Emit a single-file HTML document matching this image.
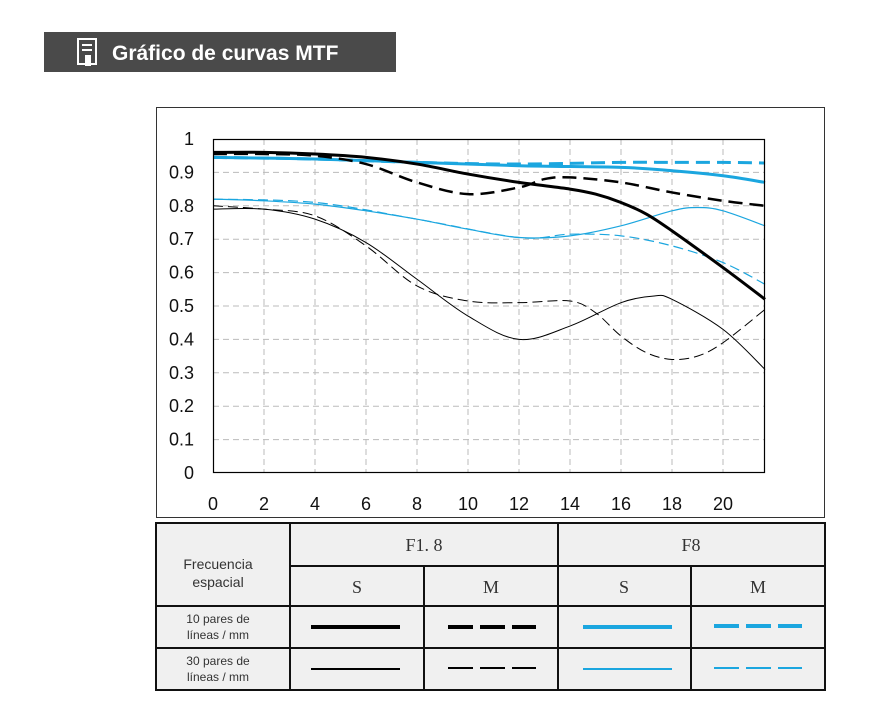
<!DOCTYPE html>
<html><head><meta charset="utf-8"><style>
body{margin:0;background:#fff;}
svg{display:block;font-family:"Liberation Sans","Noto Sans CJK SC",sans-serif;}
</style></head><body>
<svg id="c" width="879" height="725" xmlns="http://www.w3.org/2000/svg">
<rect x="44" y="32" width="352" height="40" fill="#4a4a4a"/>
<g>
<rect x="78" y="39" width="18" height="25" fill="none" stroke="#fff" stroke-width="2"/>
<line x1="82" y1="45" x2="92" y2="45" stroke="#fff" stroke-width="2"/>
<line x1="82" y1="50" x2="92" y2="50" stroke="#fff" stroke-width="2"/>
<rect x="85" y="55" width="6" height="11" fill="#fff"/>
</g>
<text x="112" y="60" fill="#fff" font-size="21" font-weight="bold">Gráfico de curvas MTF</text>
<rect x="156.5" y="107.5" width="668" height="410" fill="#fff" stroke="#333" stroke-width="1"/>
<g id="grid"></g>
<g id="ylab"></g>
<g id="xlab"></g>
<g id="series"></g>
<rect x="213.5" y="139.5" width="551" height="333" fill="none" stroke="#000" stroke-width="1.2"/>
<g>
<rect x="156" y="523" width="669" height="167" fill="#f0f0f0" stroke="#111" stroke-width="2"/>
<line x1="290" y1="523" x2="290" y2="690" stroke="#111" stroke-width="2"/>
<line x1="558" y1="523" x2="558" y2="690" stroke="#111" stroke-width="2"/>
<line x1="424" y1="566" x2="424" y2="690" stroke="#111" stroke-width="2"/>
<line x1="691" y1="566" x2="691" y2="690" stroke="#111" stroke-width="2"/>
<line x1="290" y1="566" x2="825" y2="566" stroke="#111" stroke-width="2"/>
<line x1="156" y1="606" x2="825" y2="606" stroke="#111" stroke-width="2"/>
<line x1="156" y1="648" x2="825" y2="648" stroke="#111" stroke-width="2"/>
<text x="218" y="569" font-size="14" text-anchor="middle" fill="#333">Frecuencia</text>
<text x="218" y="587" font-size="14" text-anchor="middle" fill="#333">espacial</text>
<text x="424" y="551" font-size="18" text-anchor="middle" fill="#333" font-family="Liberation Serif,serif">F1. 8</text>
<text x="691" y="551" font-size="18" text-anchor="middle" fill="#333" font-family="Liberation Serif,serif">F8</text>
<text x="357" y="593" font-size="18" text-anchor="middle" fill="#333" font-family="Liberation Serif,serif">S</text>
<text x="491" y="593" font-size="18" text-anchor="middle" fill="#333" font-family="Liberation Serif,serif">M</text>
<text x="624" y="593" font-size="18" text-anchor="middle" fill="#333" font-family="Liberation Serif,serif">S</text>
<text x="758" y="593" font-size="18" text-anchor="middle" fill="#333" font-family="Liberation Serif,serif">M</text>
<text x="218" y="623" font-size="12" text-anchor="middle" fill="#333">10 pares de</text>
<text x="218" y="639" font-size="12" text-anchor="middle" fill="#333">líneas / mm</text>
<text x="218" y="665" font-size="12" text-anchor="middle" fill="#333">30 pares de</text>
<text x="218" y="681" font-size="12" text-anchor="middle" fill="#333">líneas / mm</text>
<line x1="311" y1="627" x2="400" y2="627" stroke="#000" stroke-width="4"/>
<line x1="448" y1="627" x2="536" y2="627" stroke="#000" stroke-width="4" stroke-dasharray="25,7"/>
<line x1="583" y1="627" x2="672" y2="627" stroke="#1ba6df" stroke-width="4"/>
<line x1="714" y1="626" x2="802" y2="626" stroke="#1ba6df" stroke-width="4" stroke-dasharray="25,7"/>
<line x1="311" y1="669" x2="400" y2="669" stroke="#000" stroke-width="2"/>
<line x1="448" y1="668" x2="536" y2="668" stroke="#000" stroke-width="2" stroke-dasharray="25,7"/>
<line x1="583" y1="669" x2="672" y2="669" stroke="#1ba6df" stroke-width="2"/>
<line x1="714" y1="668" x2="802" y2="668" stroke="#1ba6df" stroke-width="2" stroke-dasharray="25,7"/>
</g>
</svg>
<script>
const xTicks=[0,2,4,6,8,10,12,14,16,18,20];
const yTicks=[0,0.1,0.2,0.3,0.4,0.5,0.6,0.7,0.8,0.9,1];
const yTickLabels=["0","0.1","0.2","0.3","0.4","0.5","0.6","0.7","0.8","0.9","1"];
const f18S10x=[0,2,4,6,8,10,12,14,15,16,17,18,20,21.65];
const f18S10y=[0.96,0.96,0.955,0.945,0.925,0.895,0.87,0.85,0.835,0.81,0.775,0.725,0.615,0.52];
const f18M10x=[0,2,4,6,8,10,12,13,14,16,18,20,21.65];
const f18M10y=[0.955,0.955,0.95,0.925,0.87,0.835,0.855,0.88,0.885,0.87,0.84,0.815,0.8];
const f8S10x=[0,4,8,12,16,18,20,21.65];
const f8S10y=[0.945,0.94,0.93,0.92,0.915,0.905,0.89,0.87];
const f8M10x=[0,4,8,12,16,18,20,21.65];
const f8M10y=[0.945,0.94,0.93,0.925,0.93,0.93,0.93,0.928];
const f8S30x=[0,2,4,6,8,10,12,14,16,18,19,20,21.65];
const f8S30y=[0.82,0.815,0.805,0.785,0.76,0.73,0.705,0.71,0.74,0.785,0.795,0.785,0.74];
const f8M30x=[0,4,8,12,14,16,18,20,21.65];
const f8M30y=[0.82,0.81,0.76,0.705,0.715,0.71,0.68,0.63,0.565];
const f18S30x=[0,2,4,6,8,10,12,14,16,17.3,18,20,21.65];
const f18S30y=[0.79,0.79,0.76,0.69,0.58,0.47,0.4,0.44,0.51,0.53,0.52,0.43,0.31];
const f18M30x=[0,2,4,6,8,10,12,14,15,16,17,18,19,20,21.65];
const f18M30y=[0.8,0.79,0.77,0.68,0.56,0.515,0.51,0.515,0.48,0.41,0.36,0.34,0.35,0.39,0.49];
const NS="http://www.w3.org/2000/svg";
const X=v=>213+v*25.5, Y=v=>473-v*334;
function mk(tag,attrs,parent){const e=document.createElementNS(NS,tag);for(const k in attrs)e.setAttribute(k,attrs[k]);parent.appendChild(e);return e;}
const grid=document.getElementById('grid'),yl=document.getElementById('ylab'),xl=document.getElementById('xlab'),ser=document.getElementById('series');
yTicks.forEach((t,i)=>{
  if(t>0&&t<1){const l=mk('line',{x1:213,x2:765,y1:Y(t),y2:Y(t),stroke:'#bbb','stroke-dasharray':'6,4'},grid);
  
  }
  const tx=mk('text',{x:194,y:Y(t)+6,'font-size':18,'text-anchor':'end',fill:'#111'},yl);tx.textContent=yTickLabels[i];
  
  
});
xTicks.forEach(t=>{
  if(t>0){const l=mk('line',{x1:X(t),x2:X(t),y1:139,y2:473,stroke:'#bbb','stroke-dasharray':'6,4'},grid);
  
  }
  const tx=mk('text',{x:X(t),y:510,'font-size':18,'text-anchor':'middle',fill:'#111'},xl);tx.textContent=String(t);
  
  
});
function path(xs,ys){const p=xs.map((x,i)=>[X(x),Y(ys[i])]);let d='M'+p[0][0]+','+p[0][1];
  for(let i=0;i<p.length-1;i++){const p0=p[i-1]||p[i],p1=p[i],p2=p[i+1],p3=p[i+2]||p2;
   d+=' C'+(p1[0]+(p2[0]-p0[0])/6)+','+(p1[1]+(p2[1]-p0[1])/6)+' '+(p2[0]-(p3[0]-p1[0])/6)+','+(p2[1]-(p3[1]-p1[1])/6)+' '+p2[0]+','+p2[1];}
  return d;}
const defs=[
 [f8M30x,f8M30y,'#1ba6df',1.2,'10,5','line-f8-m-30'],
 [f8S30x,f8S30y,'#1ba6df',1.2,'','line-f8-s-30'],
 [f18M30x,f18M30y,'#000',1,'10,5','line-f18-m-30'],
 [f18S30x,f18S30y,'#000',1,'','line-f18-s-30'],
 [f8S10x,f8S10y,'#1ba6df',3,'','line-f8-s-10'],
 [f8M10x,f8M10y,'#1ba6df',3,'14,7','line-f8-m-10'],
 [f18M10x,f18M10y,'#000',2.5,'14,7','line-f18-m-10'],
 [f18S10x,f18S10y,'#000',3,'','line-f18-s-10']];
defs.forEach(s=>{const a={d:path(s[0],s[1]),fill:'none',stroke:s[2],'stroke-width':s[3]};if(s[4])a['stroke-dasharray']=s[4];
 const e=mk('path',a,ser);
 
 });
</script>
</body></html>
